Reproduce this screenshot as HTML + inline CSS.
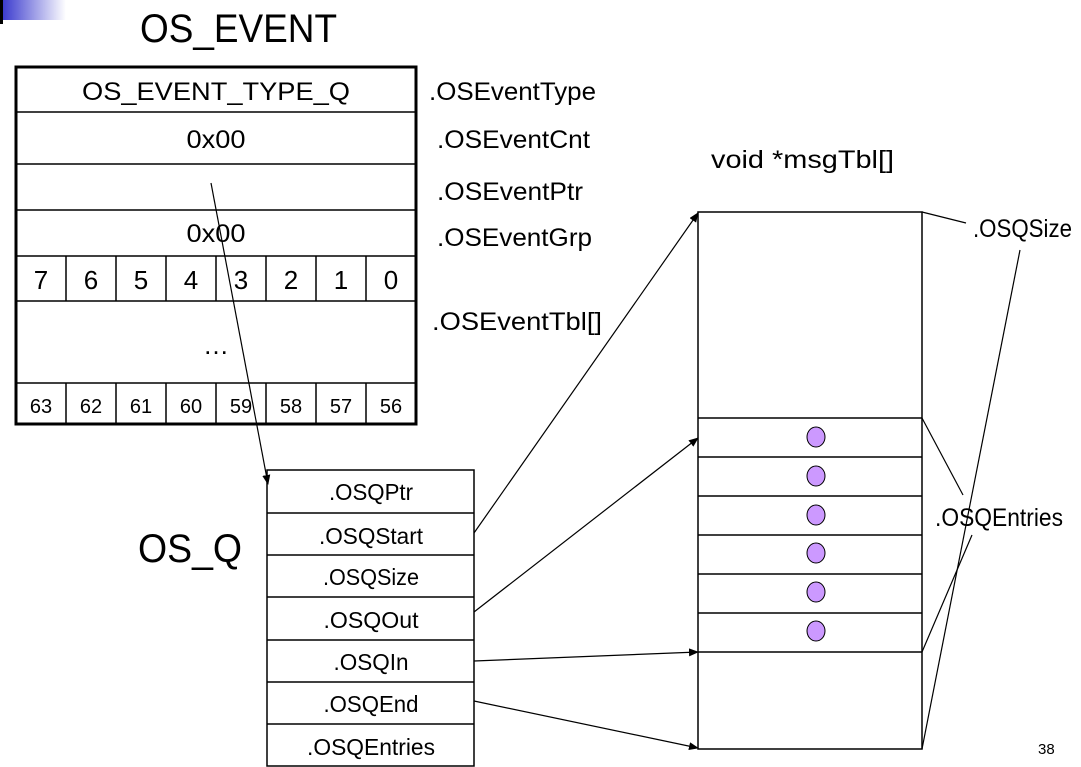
<!DOCTYPE html>
<html><head><meta charset="utf-8"><style>
html,body{margin:0;padding:0;background:#fff;}
svg{display:block;font-family:"Liberation Sans",sans-serif;}
</style></head><body>
<svg width="1081" height="767" viewBox="0 0 1081 767" xmlns="http://www.w3.org/2000/svg">
<defs>
<linearGradient id="g" x1="0" x2="1" y1="0" y2="0"><stop offset="0" stop-color="#3333cc"/><stop offset="1" stop-color="#fff"/></linearGradient>
<marker id="a" markerWidth="10" markerHeight="8" refX="9" refY="4" orient="auto" markerUnits="userSpaceOnUse"><path d="M0,0 L10,4 L0,8 z" fill="#000"/></marker>
</defs>
<rect x="0" y="0" width="66" height="20" fill="url(#g)"/>
<rect x="0" y="0" width="3" height="24" fill="#000"/>
<text x="140" y="42" font-size="40" textLength="197" lengthAdjust="spacingAndGlyphs">OS_EVENT</text>
<text x="138" y="562" font-size="40" textLength="104" lengthAdjust="spacingAndGlyphs">OS_Q</text>

<!-- OS_EVENT box -->
<g stroke="#000" fill="none">
<rect x="16" y="67" width="400" height="357" stroke-width="3"/>
<g stroke-width="1.5">
<line x1="16" y1="112" x2="416" y2="112"/>
<line x1="16" y1="164" x2="416" y2="164"/>
<line x1="16" y1="210" x2="416" y2="210"/>
<line x1="16" y1="256" x2="416" y2="256"/>
<line x1="16" y1="301" x2="416" y2="301"/>
<line x1="16" y1="383" x2="416" y2="383"/>
<line x1="66" y1="256" x2="66" y2="301"/><line x1="116" y1="256" x2="116" y2="301"/><line x1="166" y1="256" x2="166" y2="301"/><line x1="216" y1="256" x2="216" y2="301"/><line x1="266" y1="256" x2="266" y2="301"/><line x1="316" y1="256" x2="316" y2="301"/><line x1="366" y1="256" x2="366" y2="301"/>
<line x1="66" y1="383" x2="66" y2="424"/><line x1="116" y1="383" x2="116" y2="424"/><line x1="166" y1="383" x2="166" y2="424"/><line x1="216" y1="383" x2="216" y2="424"/><line x1="266" y1="383" x2="266" y2="424"/><line x1="316" y1="383" x2="316" y2="424"/><line x1="366" y1="383" x2="366" y2="424"/>
</g>
</g>
<g font-size="25" text-anchor="middle">
<text x="216" y="100" textLength="268" lengthAdjust="spacingAndGlyphs">OS_EVENT_TYPE_Q</text>
<text x="216" y="148" textLength="59" lengthAdjust="spacingAndGlyphs">0x00</text>
<text x="216" y="242" textLength="59" lengthAdjust="spacingAndGlyphs">0x00</text>
</g>
<g font-size="26" text-anchor="middle">
<text x="41" y="289">7</text><text x="91" y="289">6</text><text x="141" y="289">5</text><text x="191" y="289">4</text><text x="241" y="289">3</text><text x="291" y="289">2</text><text x="341" y="289">1</text><text x="391" y="289">0</text>
<text x="216" y="354">…</text>
</g>
<g font-size="20" text-anchor="middle">
<text x="41" y="413">63</text><text x="91" y="413">62</text><text x="141" y="413">61</text><text x="191" y="413">60</text><text x="241" y="413">59</text><text x="291" y="413">58</text><text x="341" y="413">57</text><text x="391" y="413">56</text>
</g>
<g font-size="25">
<text x="429" y="100" textLength="167" lengthAdjust="spacingAndGlyphs">.OSEventType</text>
<text x="437" y="148" textLength="153" lengthAdjust="spacingAndGlyphs">.OSEventCnt</text>
<text x="437" y="200" textLength="146" lengthAdjust="spacingAndGlyphs">.OSEventPtr</text>
<text x="437" y="246" textLength="155" lengthAdjust="spacingAndGlyphs">.OSEventGrp</text>
<text x="432" y="330" textLength="170" lengthAdjust="spacingAndGlyphs">.OSEventTbl[]</text>
<text x="711" y="168" textLength="183" lengthAdjust="spacingAndGlyphs">void *msgTbl[]</text>
<text x="973" y="237" textLength="99" lengthAdjust="spacingAndGlyphs">.OSQSize</text>
<text x="935" y="526" textLength="128" lengthAdjust="spacingAndGlyphs">.OSQEntries</text>
</g>
<text x="1038" y="754" font-size="15">38</text>

<!-- OS_Q -->
<g stroke="#000" stroke-width="1.5" fill="none">
<rect x="267" y="470" width="207" height="296"/>
<line x1="267" y1="513" x2="474" y2="513"/>
<line x1="267" y1="555" x2="474" y2="555"/>
<line x1="267" y1="597" x2="474" y2="597"/>
<line x1="267" y1="640" x2="474" y2="640"/>
<line x1="267" y1="682" x2="474" y2="682"/>
<line x1="267" y1="724" x2="474" y2="724"/>
</g>
<g font-size="23" text-anchor="middle">
<text x="371" y="500" textLength="84" lengthAdjust="spacingAndGlyphs">.OSQPtr</text>
<text x="371" y="544" textLength="104" lengthAdjust="spacingAndGlyphs">.OSQStart</text>
<text x="371" y="585" textLength="96" lengthAdjust="spacingAndGlyphs">.OSQSize</text>
<text x="371" y="628" textLength="95" lengthAdjust="spacingAndGlyphs">.OSQOut</text>
<text x="371" y="670" textLength="75" lengthAdjust="spacingAndGlyphs">.OSQIn</text>
<text x="371" y="712" textLength="95" lengthAdjust="spacingAndGlyphs">.OSQEnd</text>
<text x="371" y="755" textLength="128" lengthAdjust="spacingAndGlyphs">.OSQEntries</text>
</g>

<!-- msgTbl -->
<g stroke="#000" stroke-width="1.5" fill="none">
<rect x="698" y="212" width="224" height="537"/>
<line x1="698" y1="418" x2="922" y2="418"/>
<line x1="698" y1="457" x2="922" y2="457"/>
<line x1="698" y1="496" x2="922" y2="496"/>
<line x1="698" y1="535" x2="922" y2="535"/>
<line x1="698" y1="574" x2="922" y2="574"/>
<line x1="698" y1="613" x2="922" y2="613"/>
<line x1="698" y1="652" x2="922" y2="652"/>
</g>
<g fill="#cc99ff" stroke="#000" stroke-width="1">
<ellipse cx="816" cy="437" rx="9" ry="10"/>
<ellipse cx="816" cy="476" rx="9" ry="10"/>
<ellipse cx="816" cy="515" rx="9" ry="10"/>
<ellipse cx="816" cy="553" rx="9" ry="10"/>
<ellipse cx="816" cy="592" rx="9" ry="10"/>
<ellipse cx="816" cy="631" rx="9" ry="10"/>
</g>

<!-- connectors -->
<g stroke="#000" stroke-width="1.2" fill="none">
<line x1="211" y1="183" x2="268" y2="484" marker-end="url(#a)"/>
<line x1="474" y1="533" x2="698" y2="213" marker-end="url(#a)"/>
<line x1="474" y1="612" x2="698" y2="438" marker-end="url(#a)"/>
<line x1="474" y1="661" x2="698" y2="652" marker-end="url(#a)"/>
<line x1="474" y1="701" x2="698" y2="748" marker-end="url(#a)"/>
<line x1="922" y1="212" x2="966" y2="223"/>
<line x1="1020" y1="250" x2="922" y2="749"/>
<line x1="922" y1="418" x2="963" y2="495"/>
<line x1="972" y1="535" x2="922" y2="652"/>
</g>
</svg>
</body></html>
